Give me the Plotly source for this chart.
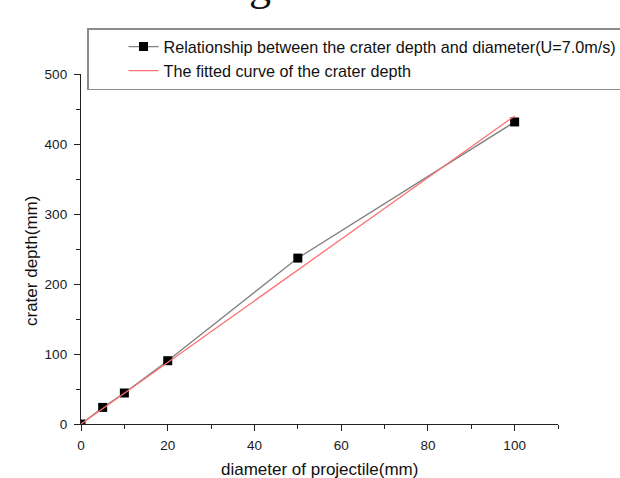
import plotly.graph_objects as go

# Data
diameter = [0, 5, 10, 20, 50, 100]
depth = [0, 23.7, 44.3, 90.4, 237, 431.5]
fit_diameter = [0, 100]
fit_depth = [0, 440]

x_ticks = [0, 20, 40, 60, 80, 100]
y_ticks = [0, 100, 200, 300, 400, 500]

FONT = "Liberation Sans, Arial, sans-serif"

fig = go.Figure()
fig.add_trace(go.Scatter(
    x=diameter, y=depth, mode="lines+markers",
    name="Relationship between the crater depth and diameter(U=7.0m/s)",
    line=dict(color="#808080", width=1.3),
    marker=dict(symbol="square", size=9, color="#000000"),
))
fig.add_trace(go.Scatter(
    x=fit_diameter, y=fit_depth, mode="lines",
    name="The fitted curve of the crater depth",
    line=dict(color="#ff6f6f", width=1.3),
))

axis_common = dict(
    showgrid=False, zeroline=False, showline=True, linecolor="#222222", linewidth=1.3,
    ticks="outside", ticklen=6, tickwidth=1.3, tickcolor="#222222",
    tickfont=dict(family=FONT, size=13.5, color="#1a1a1a"),
    minor=dict(ticks="outside", ticklen=4, tickwidth=1.2, tickcolor="#222222"),
    mirror=False,
)

fig.update_xaxes(range=[0, 110], tickvals=x_ticks, minor_dtick=10, ticklabelstandoff=3, **axis_common)
fig.update_yaxes(range=[0, 500], tickvals=y_ticks, minor_dtick=50, ticklabelstandoff=4, **axis_common)

fig.update_layout(
    width=620, height=478,
    margin=dict(l=81, r=62, t=74, b=54, autoexpand=False),
    paper_bgcolor="white", plot_bgcolor="white",
    font=dict(family=FONT, color="#111111"),
    showlegend=True,
    legend=dict(
        xref="container", yref="container", x=87/620, y=1-28/478,
        xanchor="left", yanchor="top",
        bordercolor="#8c8c8c", borderwidth=1.5, bgcolor="white",
        font=dict(family=FONT, size=16.2, color="#111111"),
        indentation=35,
    ),
    annotations=[
        dict(text="diameter of projectile(mm)", xref="paper", yref="paper",
             x=0.5, y=(424 - 469) / 350, xanchor="center", yanchor="middle",
             showarrow=False, font=dict(family=FONT, size=17, color="#111111")),
        dict(text="crater depth(mm)", xref="paper", yref="paper",
             x=(31 - 81) / 477, y=(424 - 261) / 350, xanchor="center", yanchor="middle",
             textangle=-90, showarrow=False, font=dict(family=FONT, size=17, color="#111111")),
        dict(text="g", xref="paper", yref="paper",
             x=(260 - 81) / 477, y=(424 - 12) / 350, xanchor="center", yanchor="bottom",
             showarrow=False, font=dict(family="Liberation Serif, serif", size=44, color="#111111")),
    ],
)

fig.write_html("out.html")
